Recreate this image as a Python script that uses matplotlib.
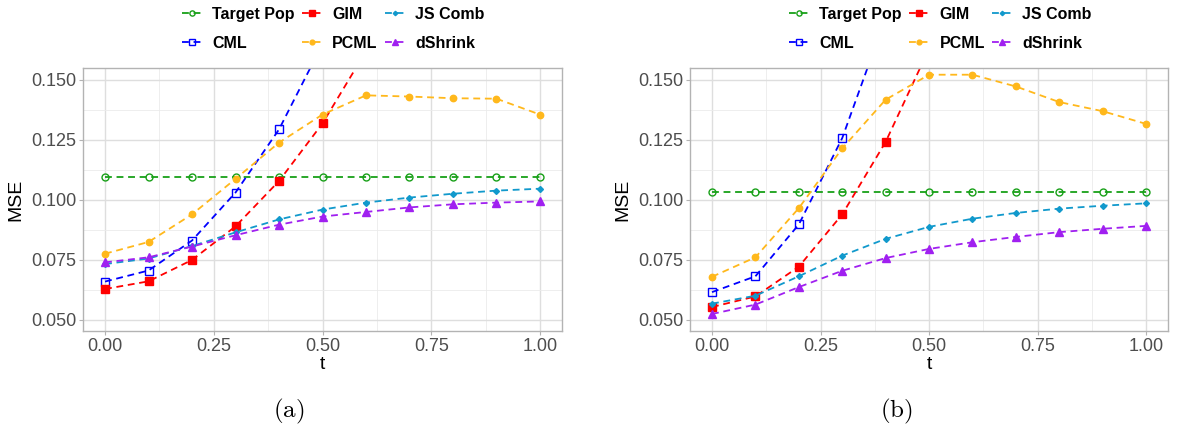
import matplotlib
matplotlib.use("Agg")
import matplotlib.pyplot as plt
import numpy as np

plt.rcParams["font.family"] = ["Liberation Sans", "DejaVu Sans"]
plt.rcParams["mathtext.fontset"] = "cm"

# t grid
t = [0.0, 0.1, 0.2, 0.3, 0.4, 0.5, 0.6, 0.7, 0.8, 0.9, 1.0]

# panel (a)
target_a = [0.1094] * 11
gim_a = [0.0629, 0.0661, 0.0750, 0.0890, 0.1079, 0.1319, 0.162, 0.190, 0.220, 0.250, 0.280]
cml_a = [0.0660, 0.0706, 0.0831, 0.1031, 0.1294, 0.165, 0.205, 0.245, 0.285, 0.325, 0.365]
pcml_a = [0.0776, 0.0825, 0.0940, 0.1088, 0.1239, 0.1356, 0.1436, 0.1431, 0.1424, 0.1422, 0.1356]
js_a = [0.0733, 0.0756, 0.0808, 0.0865, 0.0919, 0.0960, 0.0989, 0.1010, 0.1026, 0.1039, 0.1047]
dshrink_a = [0.0740, 0.0761, 0.0806, 0.0853, 0.0897, 0.0931, 0.0950, 0.0969, 0.0982, 0.0989, 0.0994]

# panel (b)
target_b = [0.1032] * 11
gim_b = [0.0554, 0.0598, 0.0722, 0.0940, 0.1242, 0.163, 0.200, 0.240, 0.280, 0.320, 0.360]
cml_b = [0.0616, 0.0682, 0.0898, 0.1258, 0.176, 0.225, 0.275, 0.325, 0.375, 0.425, 0.475]
pcml_b = [0.0680, 0.0761, 0.0966, 0.1215, 0.1418, 0.1522, 0.1522, 0.1473, 0.1408, 0.1370, 0.1317]
js_b = [0.0568, 0.0601, 0.0682, 0.0768, 0.0838, 0.0888, 0.0922, 0.0946, 0.0964, 0.0976, 0.0986]
dshrink_b = [0.0525, 0.0564, 0.0637, 0.0705, 0.0758, 0.0796, 0.0824, 0.0846, 0.0866, 0.0880, 0.0892]

labels = ["Target Pop", "CML", "GIM", "PCML", "JS Comb", "dShrink"]
colors = ["#18A018", "#0000FF", "#FF0000", "#FFB81C", "#1199CC", "#A020F0"]
markers = ["o", "s", "s", "o", "D", "^"]
msizes = [5, 5.2, 5.2, 4.6, 3.0, 5.6]
hollow = [True, True, False, False, False, False]

panels = [
    ([0.0693, 0.223, 0.3998, 0.6174], [target_a, cml_a, gim_a, pcml_a, js_a, dshrink_a], "(a)", 289),
    ([0.5760, 0.223, 0.3990, 0.6174], [target_b, cml_b, gim_b, pcml_b, js_b, dshrink_b], "(b)", 896),
]

fig = plt.figure(figsize=(11.98, 4.26), dpi=100)

for rect, series, tag, cap_x in panels:
    ax = fig.add_axes(rect)
    handles = []
    for vals, lab, col, mk, ms, hol in zip(series, labels, colors, markers, msizes, hollow):
        h, = ax.plot(t, vals, color=col, lw=1.3, dashes=(3.8, 2.6), marker=mk, ms=ms,
                     mfc="none" if hol else col, mec=col, mew=1.0, label=lab)
        handles.append(h)
    ax.set_xlim(-0.0506, 1.0506)
    ax.set_ylim(0.0454, 0.155)
    ax.set_xticks([0, 0.25, 0.5, 0.75, 1.0])
    ax.set_xticklabels(["0.00", "0.25", "0.50", "0.75", "1.00"])
    ax.set_yticks([0.05, 0.075, 0.1, 0.125, 0.15])
    ax.set_yticklabels(["0.050", "0.075", "0.100", "0.125", "0.150"])
    ax.set_xticks([0.125, 0.375, 0.625, 0.875], minor=True)
    ax.set_yticks([0.0625, 0.0875, 0.1125, 0.1375], minor=True)
    ax.grid(True, which="major", color="#DEDEDE", lw=1.0)
    ax.grid(True, which="minor", color="#EBEBEB", lw=0.6)
    ax.set_axisbelow(True)
    for s in ax.spines.values():
        s.set_color("#B3B3B3")
        s.set_linewidth(1.0)
    ax.tick_params(which="major", colors="#B3B3B3", labelcolor="#4D4D4D", labelsize=13,
                   length=3, width=0.8, pad=2)
    ax.tick_params(which="minor", length=0)
    ax.set_xlabel("t", fontsize=14, labelpad=1)
    ax.set_ylabel("MSE", fontsize=14, labelpad=5)

    fig.text(cap_x / 1198, 1 - 411 / 426, r"$\mathrm{" + tag + "}$", fontsize=18,
             ha="center", va="center")

    fig.legend(handles=handles, loc="upper left", ncol=3, frameon=False,
               bbox_to_anchor=(rect[0] + 0.0826, 1.0 - 7 / 426),
               prop={"weight": "bold", "size": 11.5}, handlelength=1.3, markerscale=0.75,
               handletextpad=0.6, columnspacing=0.45, labelspacing=0.85,
               borderpad=0.0, borderaxespad=0.0)

fig.savefig("out.png", dpi=100)
